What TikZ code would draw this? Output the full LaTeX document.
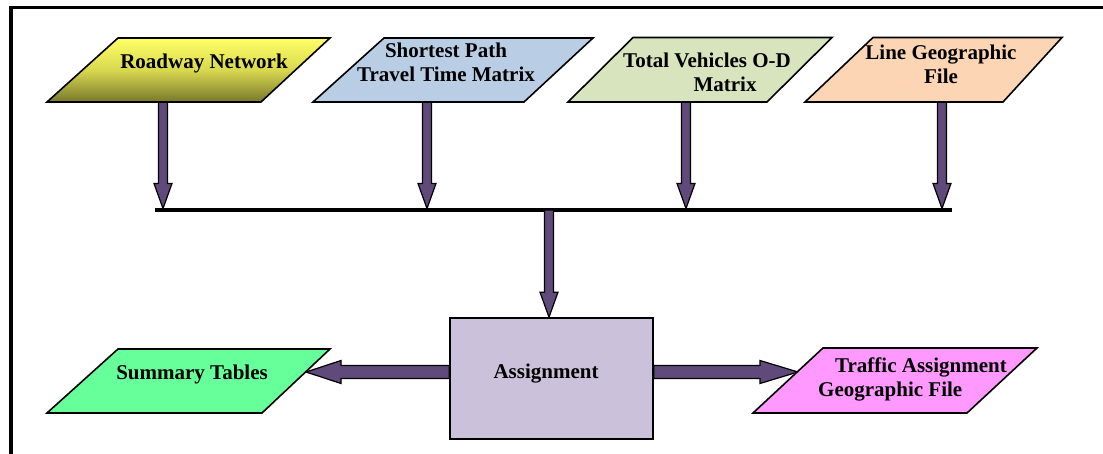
\documentclass[tikz,border=0pt]{standalone}
\usepackage{fontspec}
\setmainfont{Liberation Serif}
\usetikzlibrary{calc}
\definecolor{arrowfill}{HTML}{604A7B}
\definecolor{roadtop}{HTML}{FFFF66}
\definecolor{roadmid}{HTML}{D8D850}
\definecolor{roadbot}{HTML}{78782C}
\definecolor{spfill}{HTML}{B9CDE5}
\definecolor{tvfill}{HTML}{D7E4BD}
\definecolor{lgfill}{HTML}{FCD5B5}
\definecolor{stfill}{HTML}{66FF99}
\definecolor{tafill}{HTML}{FF99FF}
\definecolor{boxfill}{HTML}{CCC1DA}
\newcommand{\fatarrow}[5]{%
  \coordinate (fa-c) at ($(#2)!#5!(#1)$);
  \filldraw[fatarrowstyle] ($(#1)!#3!90:(#2)$) -- ($(fa-c)!#3!-90:(#1)$) -- ($(fa-c)!#4!-90:(#1)$) -- (#2) -- ($(fa-c)!#4!90:(#1)$) -- ($(fa-c)!#3!90:(#1)$) -- ($(#1)!#3!-90:(#2)$) -- cycle;}
\tikzset{
  fatarrowstyle/.style={fill=arrowfill, draw=black, line width=1.2pt, line join=miter},
  parabox/.style={draw=black, line width=1.6pt, line join=miter},
  lbl/.style={font=\bfseries\fontsize{21}{24}\selectfont, inner sep=0pt, align=center, text=black},
}
\begin{document}
\begin{tikzpicture}[x=1pt,y=-1pt]
\useasboundingbox (0,0) rectangle (1103,454);
% frame
\draw[line width=3.5pt, line join=miter] (11,470) -- (11,7.5) -- (1120,7.5);
% connection coordinates
\coordinate (p1b) at (163,102);
\coordinate (p2b) at (427,102);
\coordinate (p3b) at (686,102);
\coordinate (p4b) at (942,102);
\coordinate (b1) at (163,208.5);
\coordinate (b2) at (427,208.5);
\coordinate (b3) at (686,208.5);
\coordinate (b4) at (942,208.5);
\coordinate (busL) at (155,210);
\coordinate (busR) at (952,210);
\coordinate (busM) at (549,210);
\coordinate (sumR) at (306,372);
\coordinate (trafL) at (798,372);
% box
\node[draw=black, line width=1.6pt, fill=boxfill, minimum width=203pt, minimum height=121pt, inner sep=0pt] (assign) at (551.5,378.5) {};
\node[lbl] (assignlbl) at (546,374) {Assignment};
% bus
\draw[line width=3.5pt] (busL) -- (busR);
% arrows
\fatarrow{p1b}{b1}{4.5pt}{9pt}{25pt}
\fatarrow{p2b}{b2}{4.5pt}{9pt}{25pt}
\fatarrow{p3b}{b3}{4.5pt}{9pt}{25pt}
\fatarrow{p4b}{b4}{4.5pt}{9pt}{25pt}
\fatarrow{busM}{busM |- assign.north}{4.5pt}{9pt}{25pt}
\fatarrow{[yshift=6.5pt]assign.west}{sumR}{6.5pt}{11.5pt}{35pt}
\fatarrow{[yshift=6.5pt]assign.east}{trafL}{6.5pt}{11.5pt}{38pt}
% parallelograms
\path[parabox, top color=roadtop, bottom color=roadbot, middle color=roadmid] (47,102) -- (261,102) -- (330,38) -- (118,38) -- cycle;
\path[parabox, fill=spfill] (313,102) -- (524,102) -- (593,38) -- (384,38) -- cycle;
\path[parabox, fill=tvfill] (568,102) -- (767,102) -- (832,37.5) -- (633,37.5) -- cycle;
\path[parabox, fill=lgfill] (805,102) -- (1003,102) -- (1062,37.5) -- (873,37.5) -- cycle;
\path[parabox, fill=stfill] (47,413) -- (262,413) -- (330,349) -- (118,349) -- cycle;
\path[parabox, fill=tafill] (753,413) -- (967,413) -- (1037,348) -- (823,348) -- cycle;
% labels
\node[lbl] (roadway) at (204,63) {Roadway Network};
\node[lbl] (shortest) at (446,62.5) {Shortest Path\\Travel Time Matrix};
\node[lbl] (total) at (707,72.5) {Total Vehicles O-D\\\hspace*{36pt}Matrix};
\node[lbl] (linegeo) at (941,64) {Line Geographic\\File};
\node[lbl] (summary) at (192,374) {Summary Tables};
\node[lbl, anchor=west, align=left] (traffic) at (818,379.5) {\hspace*{17pt}Traffic Assignment\\Geographic File};
\end{tikzpicture}
\end{document}
